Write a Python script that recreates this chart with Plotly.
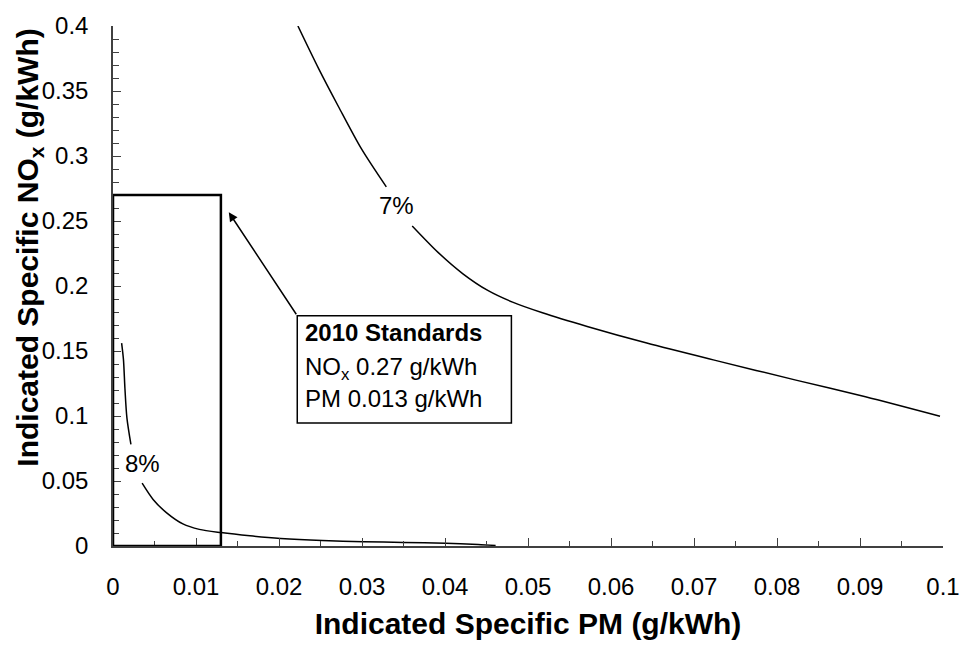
import plotly.graph_objects as go

# ---- data ----
pm_8 = [0.00104, 0.00126, 0.00144, 0.00168, 0.00216, None,
        0.00351, 0.00483, 0.00643, 0.00842, 0.0104, 0.0130, 0.0165, 0.0202, 0.0252, 0.0302, 0.0350, 0.0401, 0.0440, 0.0461]
nox_8 = [0.1561, 0.1434, 0.1209, 0.0984, 0.0781, None,
         0.0483, 0.0358, 0.0257, 0.0170, 0.0128, 0.0103, 0.0078, 0.0058, 0.0042, 0.0033, 0.0027, 0.0021, 0.0012, 0.0004]

pm_7 = [0.02228, 0.02479, 0.02719, 0.02994, 0.03293, None,
        0.03605, 0.03916, 0.04216, 0.04515, 0.04814, 0.05174, 0.05713, 0.06431, 0.07269, 0.08228, 0.09066, 0.09964]
nox_7 = [0.4000, 0.3670, 0.3377, 0.3054, 0.2762, None,
         0.2462, 0.2259, 0.2094, 0.1966, 0.1876, 0.1794, 0.1689, 0.1561, 0.1426, 0.1276, 0.1148, 0.0998]

std_pm = 0.013
std_nox = 0.27

x_ticks = [0, 0.01, 0.02, 0.03, 0.04, 0.05, 0.06, 0.07, 0.08, 0.09, 0.1]
x_labels = ["0", "0.01", "0.02", "0.03", "0.04", "0.05", "0.06", "0.07", "0.08", "0.09", "0.1"]
y_ticks = [0, 0.05, 0.1, 0.15, 0.2, 0.25, 0.3, 0.35, 0.4]
y_labels = ["0", "0.05", "0.1", "0.15", "0.2", "0.25", "0.3", "0.35", "0.4"]

FONT = "Arial, Liberation Sans, sans-serif"

fig = go.Figure()
fig.add_trace(go.Scatter(x=pm_8, y=nox_8, mode="lines", line=dict(color="black", width=1.5, shape="spline", smoothing=0.8),
                         connectgaps=False, showlegend=False, hoverinfo="skip"))
fig.add_trace(go.Scatter(x=pm_7, y=nox_7, mode="lines", line=dict(color="black", width=1.5, shape="spline", smoothing=0.8),
                         connectgaps=False, showlegend=False, hoverinfo="skip"))

# standards rectangle
fig.add_shape(type="rect", x0=0, y0=0, x1=std_pm, y1=std_nox, xref="x", yref="y",
              line=dict(color="black", width=2.5), layer="above")

# curve labels
fig.add_annotation(x=0.00355, y=0.0633, text="8%", showarrow=False, font=dict(family=FONT, size=24, color="black"))
fig.add_annotation(x=0.03417, y=0.2617, text="7%", showarrow=False, font=dict(family=FONT, size=24, color="black"))

# arrow
fig.add_annotation(x=0.01395, y=0.2567, ax=0.0222, ay=0.1771, axref="x", ayref="y", xref="x", yref="y",
                   text="", showarrow=True, arrowhead=2, arrowsize=1.2, arrowwidth=1.5, arrowcolor="black")

# text box
fig.add_shape(type="rect", x0=0.0222, x1=0.0480, y0=0.0946, y1=0.1771, xref="x", yref="y",
              line=dict(color="black", width=1.5), fillcolor="white", layer="above")
box_lines = ["<b>2010 Standards</b>", "NO<sub>x</sub> 0.27 g/kWh", "PM 0.013 g/kWh"]
box_y = [0.1643, 0.1365, 0.1133]
for t, yy in zip(box_lines, box_y):
    fig.add_annotation(x=0.0222, y=yy, xanchor="left", xshift=6, text=t, showarrow=False,
                       font=dict(family=FONT, size=24, color="black"))

# y title as annotation
fig.add_annotation(xref="paper", yref="paper", x=-0.101, y=0.574, xanchor="center", yanchor="middle",
                   textangle=-90,
                   text="<b>Indicated Specific NO<sub>x</sub> (g/kWh)</b>", showarrow=False,
                   font=dict(family=FONT, size=30, color="black"))

fig.update_layout(
    width=972, height=647,
    margin=dict(l=113, r=24, t=18, b=96),
    paper_bgcolor="white", plot_bgcolor="white",
    font=dict(family=FONT, size=24, color="black"),
    xaxis=dict(range=[0, 0.1], tickvals=x_ticks, ticktext=x_labels, ticks="inside", ticklen=8,
               tickwidth=1.3, tickcolor="#404040", showline=True, linecolor="#404040", linewidth=1.5,
               showgrid=False, zeroline=False, ticklabelstandoff=18,
               minor=dict(ticks="inside", dtick=0.005, ticklen=5, tickcolor="#404040", showgrid=False),
               title=dict(text="<b>Indicated Specific PM (g/kWh)</b>", font=dict(size=30), standoff=14)),
    yaxis=dict(range=[0, 0.4], tickvals=y_ticks, ticktext=y_labels, ticks="inside", ticklen=8,
               tickwidth=1.3, tickcolor="#404040", showline=True, linecolor="#404040", linewidth=1.5,
               showgrid=False, zeroline=False, ticklabelstandoff=18,
               minor=dict(ticks="inside", dtick=0.01, ticklen=6, tickcolor="#404040", showgrid=False)),
)

fig.write_html("out.html")
